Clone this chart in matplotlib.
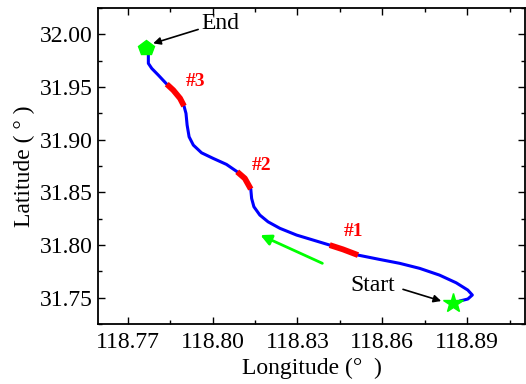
import matplotlib
matplotlib.use("Agg")
import matplotlib.pyplot as plt
from matplotlib.ticker import MultipleLocator, FormatStrFormatter

# Vessel track (start -> end)
track_lon = [118.8873, 118.8902, 118.8918, 118.8902, 118.8861, 118.8802, 118.8732,
             118.8661, 118.8590, 118.8514, 118.8461, 118.8414, 118.8355, 118.8297,
             118.8238, 118.8196, 118.8167, 118.8146, 118.8138, 118.8135, 118.8114,
             118.8087, 118.8049, 118.8002, 118.7961, 118.7932, 118.7917, 118.7910,
             118.7906, 118.7899, 118.7885, 118.7861, 118.7838, 118.7808, 118.7785,
             118.7773, 118.7773]
track_lat = [31.7469, 31.7488, 31.7526, 31.7573, 31.7642, 31.7715, 31.7779,
             31.7827, 31.7864, 31.7905, 31.7959, 31.8000, 31.8048, 31.8095,
             31.8159, 31.8221, 31.8285, 31.8364, 31.8443, 31.8532, 31.8633,
             31.8696, 31.8766, 31.8823, 31.8876, 31.8949, 31.9028, 31.9139,
             31.9250, 31.9320, 31.9393, 31.9471, 31.9528, 31.9614, 31.9677,
             31.9725, 31.9804]

# Highlighted sections #1, #2, #3
seg1_lon = [118.8514, 118.8461, 118.8414]
seg1_lat = [31.7905, 31.7959, 31.8000]
seg2_lon = [118.8135, 118.8114, 118.8087]
seg2_lat = [31.8532, 31.8633, 31.8696]
seg3_lon = [118.7899, 118.7885, 118.7861, 118.7838]
seg3_lat = [31.9320, 31.9393, 31.9471, 31.9528]
seg_labels = ["#1", "#2", "#3"]
seg_label_lon = [118.8497, 118.8173, 118.7940]
seg_label_lat = [31.8133, 31.8759, 31.9556]

start_pt = (118.8849, 31.7453)
end_pt = (118.7765, 31.9867)

x_ticks = [118.77, 118.80, 118.83, 118.86, 118.89]
y_ticks = [31.75, 31.80, 31.85, 31.90, 31.95, 32.00]

plt.rcParams['font.family'] = ['Liberation Serif', 'DejaVu Serif']

fig = plt.figure(figsize=(5.26, 3.84), dpi=100)
ax = fig.add_axes([0.1863, 0.156, 0.8117, 0.823])

ax.plot(track_lon, track_lat, color='#0000ff', lw=2.2, solid_capstyle='round',
        solid_joinstyle='round', zorder=2)
for sx, sy in [(seg1_lon, seg1_lat), (seg2_lon, seg2_lat), (seg3_lon, seg3_lat)]:
    ax.plot(sx, sy, color='#ff0000', lw=4.2, solid_capstyle='butt',
            solid_joinstyle='round', zorder=3)
for t, x, y in zip(seg_labels, seg_label_lon, seg_label_lat):
    ax.text(x, y, t, color='#ff0000', fontsize=14, fontweight='bold',
            ha='center', va='center', zorder=4)

ax.plot(*start_pt, marker='*', color='#00ff00', markersize=15, mec='#00ff00', zorder=5)
ax.plot(*end_pt, marker='p', color='#00ff00', markersize=11.5, mec='#00ff00', zorder=5)

# Start / End labels with pointer arrows
ax.text(118.8026, 32.0107, "End", fontsize=17, ha='center', va='center')
ax.annotate("", xy=(118.7790, 31.9915), xytext=(118.7949, 32.0047),
            arrowprops=dict(arrowstyle='-|>', color='black', lw=1.2,
                            mutation_scale=11, shrinkA=0, shrinkB=0))
ax.text(118.8566, 31.7615, "Start", fontsize=17, ha='center', va='center')
ax.annotate("", xy=(118.8808, 31.7469), xytext=(118.8673, 31.7580),
            arrowprops=dict(arrowstyle='-|>', color='black', lw=1.2,
                            mutation_scale=11, shrinkA=0, shrinkB=0))

# Direction of travel
ax.annotate("", xy=(118.8169, 31.8095), xytext=(118.8388, 31.7827),
            arrowprops=dict(arrowstyle='-|>', color='#00ff00', lw=2,
                            mutation_scale=16, shrinkA=0, shrinkB=0))

ax.set_xlim(118.7595, 118.9104)
ax.set_ylim(31.725, 32.025)
ax.set_xticks(x_ticks)
ax.set_yticks(y_ticks)
ax.xaxis.set_major_formatter(FormatStrFormatter('%.2f'))
ax.yaxis.set_major_formatter(FormatStrFormatter('%.2f'))
ax.xaxis.set_minor_locator(MultipleLocator(0.015))
ax.yaxis.set_minor_locator(MultipleLocator(0.025))
ax.tick_params(which='both', direction='in', top=True, right=True, labelsize=17,
               width=1.0)
ax.tick_params(which='major', length=5, pad=4)
ax.tick_params(axis='x', which='major', pad=6)
ax.tick_params(which='minor', length=3)
for s in ax.spines.values():
    s.set_linewidth(1.3)

ax.set_xlabel("Longitude (°  )", fontsize=17, labelpad=3)
ax.set_ylabel("Latitude ( ° )", fontsize=17, labelpad=3)

fig.savefig("out.png", dpi=100)
